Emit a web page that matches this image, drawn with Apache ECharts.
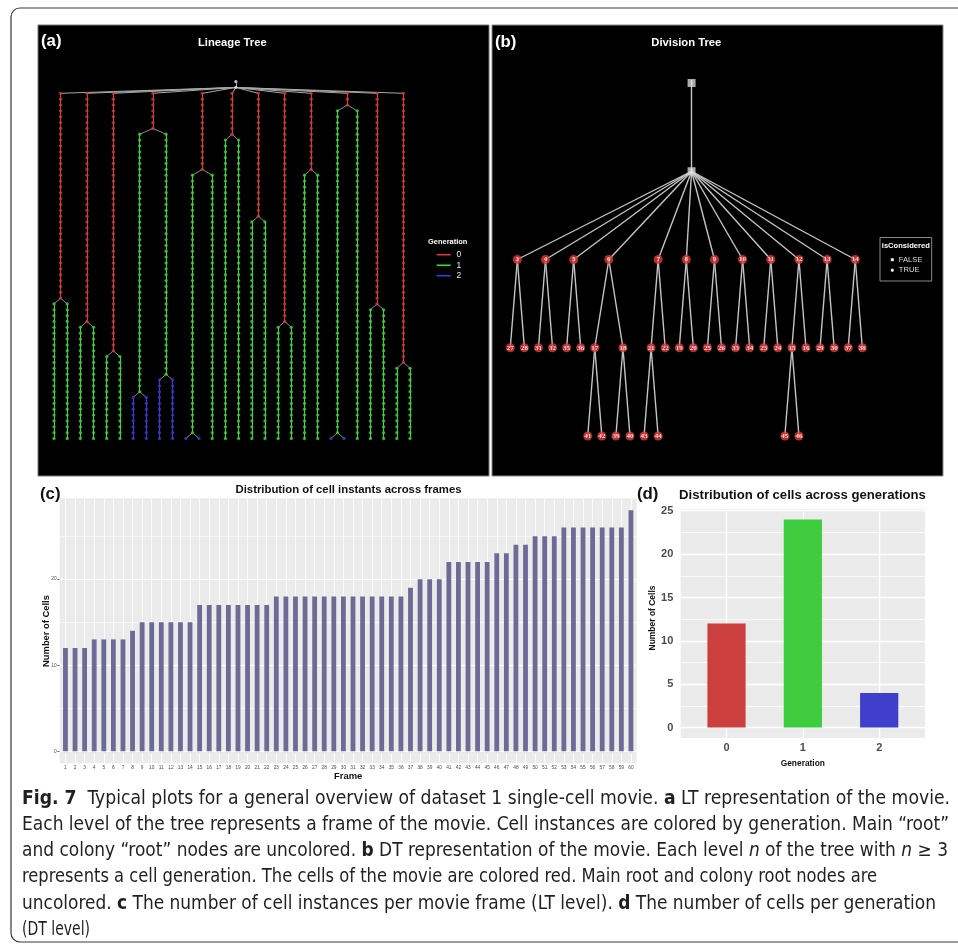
<!DOCTYPE html>
<html><head><meta charset="utf-8">
<script src="https://cdn.jsdelivr.net/npm/echarts@6.0.0/dist/echarts.min.js"></script>
<style>html,body{margin:0;padding:0;background:#fff;}#chart{width:958px;height:950px;}</style>
</head><body><div id="chart"></div>
<script>
// ===================== DATA =====================
// (c) cell instants per frame
const frameLabels = [1,2,3,4,5,6,7,8,9,10,11,12,13,14,15,16,17,18,19,20,21,22,23,24,25,26,27,28,29,30,
  31,32,33,34,35,36,37,38,39,40,41,42,43,44,45,46,47,48,49,50,51,52,53,54,55,56,57,58,59,60];
const cellsPerFrame = [12,12,12,13,13,13,13,14,15,15,15,15,15,15,17,17,17,17,17,17,17,17,18,18,18,18,18,18,18,18,
  18,18,18,18,18,18,19,20,20,20,22,22,22,22,22,23,23,24,24,25,25,25,26,26,26,26,26,26,26,28];
const yTicksC = [0,10,20];
// (d) cells per generation
const generationLabels = ['0','1','2'];
const cellsPerGeneration = [12,24,4];
const yTicksD = [0,5,10,15,20,25];
// (a) lineage tree: 12 colonies, frame where the generation-0 cell divides,
// and frames where each generation-1 daughter divides (0 = no division)
const ltLastFrame = 60;
const ltColonyDivision = [36,40,45,7,14,8,22,40,14,3,37,47];
const ltDaughterDivision = [[0,0],[0,0],[0,0],[52,49],[59,0],[0,0],[0,0],[0,0],[0,0],[59,0],[0,0],[0,0]];
// (b) division tree edges [parent, child]
const dtEdges = [[1,2],[2,3],[2,4],[2,5],[2,6],[2,7],[2,8],[2,9],[2,10],[2,11],[2,12],[2,13],[2,14],
  [3,27],[3,28],[4,31],[4,32],[5,35],[5,36],[6,17],[6,18],[17,41],[17,42],[18,39],[18,40],
  [7,21],[7,22],[21,43],[21,44],[8,19],[8,20],[9,25],[9,26],[10,33],[10,34],[11,23],[11,24],
  [12,15],[12,16],[15,45],[15,46],[13,29],[13,30],[14,37],[14,38]];
const dtUnconsidered = [1,2];

// ===================== STYLE =====================
const SANS = "'Liberation Sans', Arial, Helvetica, sans-serif";
const genColors = ['#DA3A3A','#3AD83A','#3A3ADA'];
const barGenColors = ['#CC3F3F','#3FCC3F','#3F3FCC'];
const barColorC = '#6B6B96';

const ctx = document.createElement('canvas').getContext('2d');
function fit(text, weight, width, family){
  family = family || SANS; ctx.font = weight + ' 100px ' + family;
  return +(100*width/ctx.measureText(text).width).toFixed(2);
}

// ===================== TIDY TREE LAYOUT =====================
function tidy(root){
  function rec(n){
    if(!n.children.length){ n.L=[0]; n.R=[0]; return; }
    n.children.forEach(rec);
    const offs=[]; let ML=null, MR=null;
    n.children.forEach((c,i)=>{
      let o=0;
      if(i>0){
        o=-Infinity;
        const m=Math.min(MR.length,c.L.length);
        for(let d=0;d<m;d++) o=Math.max(o, MR[d]-c.L[d]+1);
      }
      offs.push(o);
      if(i===0){ ML=c.L.slice(); MR=c.R.slice(); }
      else{
        for(let d=0;d<c.L.length;d++){
          if(d<MR.length) MR[d]=c.R[d]+o; else { MR.push(c.R[d]+o); ML.push(c.L[d]+o); }
        }
      }
    });
    const mean = offs.reduce((a,b)=>a+b,0)/offs.length;
    n.children.forEach((c,i)=>{ c.rel = offs[i]-mean; });
    n.L=[0].concat(ML.map(v=>v-mean)); n.R=[0].concat(MR.map(v=>v-mean));
  }
  rec(root);
  (function place(n,x){ n.x=x; n.children.forEach(c=>place(c,x+c.rel)); })(root,0);
}

// ---- build lineage tree ----
const ltNodes=[];
function mk(depth, gen, kind){ const n={depth,gen,kind,children:[]}; ltNodes.push(n); return n; }
const ltRoot = mk(0,-1,'root');
const ltColRoot = mk(1,-1,'root'); ltRoot.children.push(ltColRoot);
function chain(parent, gen, f0, f1){ let p=parent; for(let f=f0; f<=f1; f++){ const n=mk(f+1,gen,'cell'); p.children.push(n); p=n; } return p; }
ltColonyDivision.forEach((d0,i)=>{
  const last0 = chain(ltColRoot,0,1,d0);
  ltDaughterDivision[i].forEach(dd=>{
    const last1 = chain(last0,1,d0+1, dd||ltLastFrame);
    if(dd){ chain(last1,2,dd+1,ltLastFrame); chain(last1,2,dd+1,ltLastFrame); }
  });
});
tidy(ltRoot);
const ltMin = Math.min(...ltNodes.map(n=>n.x)), ltMax = Math.max(...ltNodes.map(n=>n.x));
const ltEdgeData=[];
ltNodes.forEach(p=>p.children.forEach(c=>{
  let col = '#A8A8A8';
  if(p.kind==='cell' && p.gen===c.gen) col = genColors[c.gen];
  else if(p.kind==='cell') col = '#8A8A8A';
  ltEdgeData.push({coords:[[p.x,p.depth],[c.x,c.depth]], lineStyle:{color:col}});
}));

// ---- build division tree ----
const dtMap={};
function dtNode(id){ if(!dtMap[id]) dtMap[id]={id,children:[],depth:0}; return dtMap[id]; }
dtEdges.forEach(([a,b])=>{ const p=dtNode(a), c=dtNode(b); p.children.push(c); });
const dtRoot=dtMap[1];
(function dep(n,d){ n.depth=d; n.children.forEach(c=>dep(c,d+1)); })(dtRoot,0);
tidy(dtRoot);
const dtList=Object.values(dtMap);
const dtMin=Math.min(...dtList.map(n=>n.x)), dtMax=Math.max(...dtList.map(n=>n.x));
const dtEdgeData=dtEdges.map(([a,b])=>({coords:[[dtMap[a].x,dtMap[a].depth],[dtMap[b].x,dtMap[b].depth]]}));

// ===================== GRAPHIC TEXT =====================
const G=[];
function txt(text,x,y,size,o){
  o=o||{};
  G.push({type:'text', x, y, rotation:o.rot||0, z:100, silent:true,
    style:{text, fontSize:size, fontFamily:o.fam||SANS, fontWeight:o.w||'normal',
      fill:o.c||'#000', align:o.a||'center', verticalAlign:'middle', textAlign:o.a||'center', textVerticalAlign:'middle'}});
}
// outer frame
G.push({type:'rect', z:0, silent:true, shape:{x:11,y:8,width:962,height:934,r:9}, style:{fill:'none',stroke:'#3A3A3A',lineWidth:1.2}});
// black panels
G.push({type:'rect', z:0, silent:true, shape:{x:38,y:25,width:451,height:451}, style:{fill:'#000',stroke:'#777',lineWidth:1}});
G.push({type:'rect', z:0, silent:true, shape:{x:492,y:25,width:451,height:451}, style:{fill:'#000',stroke:'#888',lineWidth:1}});
// panel letters
const letterSize = fit('(a)','bold',20.5);
txt('(a)',41,41.5,letterSize,{w:'bold',c:'#fff',a:'left'});
txt('(b)',495,42,letterSize,{w:'bold',c:'#fff',a:'left'});
txt('(c)',40,494,letterSize,{w:'bold',c:'#111',a:'left'});
txt('(d)',637,494,letterSize,{w:'bold',c:'#111',a:'left'});
// tree titles
txt('Lineage Tree',232.3,42.7,fit('Lineage Tree','bold',68.7),{w:'bold',c:'#fff'});
txt('Division Tree',686.3,43,fit('Division Tree','bold',70),{w:'bold',c:'#fff'});
// legend (a)
txt('Generation',447.7,242,fit('Generation','bold',39.4),{w:'bold',c:'#fff'});
const legY=[254.7,265.3,275.7];
generationLabels.forEach((g,i)=>{
  G.push({type:'line', z:50, silent:true, shape:{x1:436.7,y1:legY[i],x2:450.7,y2:legY[i]}, style:{stroke:genColors[i],lineWidth:1.6}});
  txt(g,456.5,legY[i],8.5,{c:'#eee',a:'left'});
});
// legend (b)
G.push({type:'rect', z:50, silent:true, shape:{x:880,y:237.5,width:51.7,height:43.5}, style:{fill:'#000',stroke:'#8A8A8A',lineWidth:1}});
txt('isConsidered',905.8,246,fit('isConsidered','bold',48),{w:'bold',c:'#fff'});
G.push({type:'rect', z:60, silent:true, shape:{x:890.8,y:258.2,width:3,height:3}, style:{fill:'#eee'}});
G.push({type:'circle', z:60, silent:true, shape:{cx:892.3,cy:270.2,r:1.6}, style:{fill:'#eee'}});
txt('FALSE',898.8,259.7,fit('FALSE','normal',23.7),{c:'#ddd',a:'left'});
txt('TRUE',898.8,270.2,fit('FALSE','normal',23.7),{c:'#ddd',a:'left'});
// (c) titles
const tC='Distribution of cell instants across frames';
txt(tC,348.5,490,fit(tC,'bold',226),{w:'bold',c:'#111'});
txt('Number of Cells',46,631,fit('Number of Cells','bold',72),{w:'bold',c:'#111',rot:Math.PI/2});
txt('Frame',348.2,776,fit('Frame','bold',28.3),{w:'bold',c:'#111'});
// (d) titles
const tD='Distribution of cells across generations';
txt(tD,802.5,495,fit(tD,'bold',247),{w:'bold',c:'#111'});
txt('Number of Cells',652.7,618,fit('Number of Cells','bold',65),{w:'bold',c:'#111',rot:Math.PI/2});
txt('Generation',802.8,763.3,fit('Generation','bold',44.3),{w:'bold',c:'#111'});

// caption
const capFam="'DejaVu Sans Condensed','Liberation Sans Narrow','Liberation Sans',sans-serif";
const capSize=18.6;
const capLines=[
  [['b','Fig. 7'],['r','  Typical plots for a general overview of dataset 1 single-cell movie. '],['b','a'],['r',' LT representation of the movie.']],
  [['r','Each level of the tree represents a frame of the movie. Cell instances are colored by generation. Main \u201croot\u201d']],
  [['r','and colony \u201croot\u201d nodes are uncolored. '],['b','b'],['r',' DT representation of the movie. Each level '],['i','n'],['r',' of the tree with '],['i','n'],['r',' \u2265 3']],
  [['r','represents a cell generation. The cells of the movie are colored red. Main root and colony root nodes are']],
  [['r','uncolored. '],['b','c'],['r',' The number of cell instances per movie frame (LT level). '],['b','d'],['r',' The number of cells per generation']],
  [['r','(DT level)']]
];
const capWidths=[928,927,926,855,914,68];
function segW(seg,size){ ctx.font=(seg[0]==='b'?'bold ':seg[0]==='i'?'italic ':'')+size+'px '+capFam; return ctx.measureText(seg[1]).width; }
const capRich={
  r:{fontSize:capSize,fontFamily:capFam,fill:'#231F20',color:'#231F20'},
  b:{fontSize:capSize,fontFamily:capFam,fontWeight:'bold',fill:'#231F20',color:'#231F20'},
  i:{fontSize:capSize,fontFamily:capFam,fontStyle:'italic',fill:'#231F20',color:'#231F20'}
};
capLines.forEach((ln,k)=>{
  const natural = ln.reduce((s,g)=>s+segW(g,capSize),0);
  G.push({type:'text', x:22, y:799+k*26.2, z:100, silent:true, scaleX: capWidths[k]/natural, scaleY:1,
    style:{text: ln.map(([s,t])=>'{'+s+'|'+t+'}').join(''), rich:capRich, fontSize:capSize, fontFamily:capFam, fill:'#231F20',
      align:'left', verticalAlign:'middle', textAlign:'left', textVerticalAlign:'middle'}});
});

// ===================== GRIDLINE MARKLINES =====================
const minorC = yTicksC.map(v=>v+5);
const minorD = yTicksD.map(v=>v+2.5).filter(v=>v<25.2);
const wl = (w)=>({color:'#fff',width:w,type:'solid'});
const markC = [].concat(
  minorC.map(v=>({yAxis:v,lineStyle:wl(0.6)})),
  yTicksC.map(v=>({yAxis:v,lineStyle:wl(1.1)})),
  frameLabels.map(v=>({xAxis:v,lineStyle:wl(0.8)})));
const markD = [].concat(
  minorD.map(v=>({yAxis:v,lineStyle:wl(0.7)})),
  yTicksD.map(v=>({yAxis:v,lineStyle:wl(1.4)})),
  generationLabels.map((g,i)=>({xAxis:Number(g),lineStyle:wl(1.4)})));

const tickStyle = {color:'#333',width:0.8};
const option={
  animation:false,
  backgroundColor:'#fff',
  graphic:{elements:G},
  grid:[
    {left:54, top:81.6, width:356, height:356.9, show:false},
    {left:510.3, top:83, width:352, height:353, show:false},
    {left:59.7, top:498.3, width:577, height:265, show:true, backgroundColor:'#EBEBEB', borderWidth:0},
    {left:680.7, top:509, width:244.3, height:229, show:true, backgroundColor:'#EBEBEB', borderWidth:0}
  ],
  xAxis:[
    {gridIndex:0,type:'value',min:ltMin,max:ltMax,show:false},
    {gridIndex:1,type:'value',min:dtMin,max:dtMax,show:false},
    {gridIndex:2,type:'value',min:0.4,max:60.6,axisLine:{show:false},splitLine:{show:false},
      axisTick:{show:true,customValues:frameLabels,length:1.6,lineStyle:tickStyle},
      axisLabel:{customValues:frameLabels,fontSize:4.8,color:'#4D4D4D',margin:2,fontFamily:SANS}},
    {gridIndex:3,type:'value',min:-0.6,max:2.6,axisLine:{show:false},splitLine:{show:false},
      axisTick:{show:true,customValues:generationLabels.map(Number),length:3,lineStyle:tickStyle},
      axisLabel:{customValues:generationLabels.map(Number),fontSize:11,fontWeight:'bold',color:'#4D4D4D',margin:4.5,fontFamily:SANS,
        formatter:v=>generationLabels[Math.round(v)]}}
  ],
  yAxis:[
    {gridIndex:0,type:'value',inverse:true,min:0,max:61,show:false},
    {gridIndex:1,type:'value',inverse:true,min:0,max:4,show:false},
    {gridIndex:2,type:'value',min:-1.4,max:29.4,axisLine:{show:false},splitLine:{show:false},
      axisTick:{show:true,customValues:yTicksC,length:2.2,lineStyle:tickStyle},
      axisLabel:{customValues:yTicksC,fontSize:4.8,color:'#4D4D4D',margin:3,fontFamily:SANS}},
    {gridIndex:3,type:'value',min:-1.2,max:25.2,axisLine:{show:false},splitLine:{show:false},
      axisTick:{show:true,customValues:yTicksD,length:4,lineStyle:tickStyle},
      axisLabel:{customValues:yTicksD,fontSize:11,fontWeight:'bold',color:'#4D4D4D',margin:7.4,fontFamily:SANS}}
  ],
  series:[
    // (a) lineage tree
    {type:'lines',coordinateSystem:'cartesian2d',xAxisIndex:0,yAxisIndex:0,silent:true,
      lineStyle:{width:1,opacity:1},data:ltEdgeData},
    {type:'scatter',xAxisIndex:0,yAxisIndex:0,silent:true,symbolSize:3.3,
      data:ltNodes.map(n=>({value:[n.x,n.depth],itemStyle:{color:n.kind==='root'?'#E4E4E4':genColors[n.gen]}}))},
    // (b) division tree
    {type:'lines',coordinateSystem:'cartesian2d',xAxisIndex:1,yAxisIndex:1,silent:true,
      lineStyle:{width:1.4,opacity:1,color:'#C4C4C4'},data:dtEdgeData},
    {type:'scatter',xAxisIndex:1,yAxisIndex:1,silent:true,
      data:dtList.map(n=>{
        const un = dtUnconsidered.indexOf(n.id)>=0;
        return {name:String(n.id),value:[n.x,n.depth],symbol:un?'rect':'circle',symbolSize:un?8:9,
          itemStyle:{color:un?'#D6D6D6':'#E03A3A'},
          label:{show:true,position:'inside',formatter:'{b}',color:'#fff',fontSize:un?5.5:7,fontWeight:'bold',fontFamily:"'Liberation Serif','DejaVu Serif',serif"}};
      })},
    // (c) gridlines + bars
    {type:'scatter',xAxisIndex:2,yAxisIndex:2,data:[],silent:true,z:1,
      markLine:{z:1,silent:true,symbol:['none','none'],animation:false,label:{show:false},data:markC}},
    {type:'bar',xAxisIndex:2,yAxisIndex:2,silent:true,z:6,barWidth:4.8,
      itemStyle:{color:barColorC},
      data:frameLabels.map((f,i)=>[f,cellsPerFrame[i]])},
    // (d) gridlines + bars
    {type:'scatter',xAxisIndex:3,yAxisIndex:3,data:[],silent:true,z:1,
      markLine:{z:1,silent:true,symbol:['none','none'],animation:false,label:{show:false},data:markD}},
    {type:'bar',xAxisIndex:3,yAxisIndex:3,silent:true,z:6,barWidth:38.2,
      data:generationLabels.map((g,i)=>({value:[Number(g),cellsPerGeneration[i]],itemStyle:{color:barGenColors[i]}}))}
  ]
};
const chart=echarts.init(document.getElementById('chart'),null,{renderer:'canvas'});
chart.setOption(option);
</script></body></html>
